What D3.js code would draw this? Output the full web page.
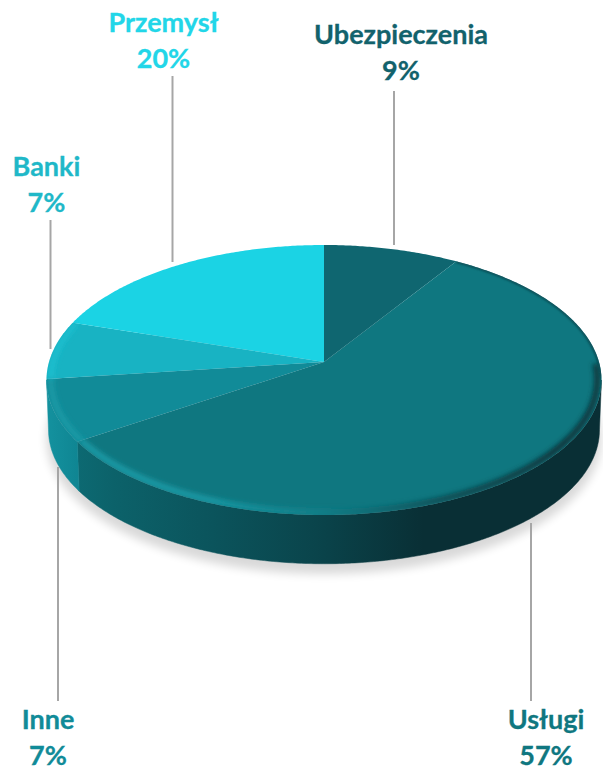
<!DOCTYPE html>
<html><head><meta charset="utf-8">
<script src="https://cdn.jsdelivr.net/npm/d3@7"></script>
<style>html,body{margin:0;padding:0;background:#fff}svg{display:block}</style>
</head><body><svg id="c" width="603" height="772"></svg>
<script>
const categories = ["Ubezpieczenia","Usługi","Inne","Banki","Przemysł"];
const values = [9,56.6,7.4,7,20];
const faceColors = ["#0f6670","#0f7780","#118b98","#18b3c3","#1bd3e4"];
const labelColors = ["#12626c","#0f7780","#118b98","#1fb8c8","#22d6e8"];

const W=603,H=772;
const svg=d3.select("#c");
const defs=svg.append("defs");
const cx=324,cy=362,depth=50;
// perspective disc: apex off the ellipse centre
const persp=-0.1333, sx=275, sy=132.6;
function proj(t,r=1,dy=0){
  const u=Math.sin(t)*r, v=-Math.cos(t)*r, d=1+persp*v;
  return [cx+sx*u/d, cy+sy*v/d+dy];
}
const pie=d3.pie().sort(null).value(d=>d)(values);
const line=d3.line();
const samples=(a,b)=>{const n=Math.max(2,Math.ceil((b-a)/0.01));return d3.range(n+1).map(i=>a+(b-a)*i/n);};
const frontA=Math.acos(persp), frontB=2*Math.PI-frontA;

const blur=(id,s)=>defs.append("filter").attr("id",id).attr("x","-20%").attr("y","-20%").attr("width","140%").attr("height","140%")
  .append("feGaussianBlur").attr("stdDeviation",s);
blur("sh",5); blur("rim",2.4); blur("rimBack",1.2);
const grad=(id,stops)=>{const g=defs.append("linearGradient").attr("id",id).attr("gradientUnits","userSpaceOnUse")
  .attr("x1",46).attr("x2",601).attr("y1",0).attr("y2",0);
  stops.forEach(s=>g.append("stop").attr("offset",s[0]).attr("stop-color",s[1]));};
grad("wall1",[[0,"#0d7079"],[0.12,"#0c626a"],[0.3,"#0b545c"],[0.5,"#0a434a"],[0.68,"#092f35"],[1,"#092f35"]]);
grad("wall2",[[0,"#14929f"],[0.06,"#0f8592"]]);
grad("rim1",[[0,"#1a9ca8"],[0.3,"#1a9aa6"],[0.5,"#127e88"],[0.72,"#0a4a51"],[0.92,"#083238"],[1,"#08383e"]]);
defs.append("clipPath").attr("id","topClip").append("path")
  .attr("d",line(samples(0,2*Math.PI).map(t=>proj(t)))+"Z");

// ground shadow
svg.append("path").attr("d",line(samples(0,2*Math.PI).map(t=>proj(t,1.0,depth+9)))+"Z")
  .attr("fill","#000").attr("opacity",0.15).attr("filter","url(#sh)");

// walls
const wallFill=[null,"url(#wall1)","url(#wall2)","#14929f",null];
pie.forEach((p,i)=>{
  const a=Math.max(p.startAngle,frontA), b=Math.min(p.endAngle,frontB);
  if(b<=a) return;
  const top=samples(a,b).map(t=>proj(t));
  const bot=samples(a,b).reverse().map(t=>proj(t,0.993,depth));
  svg.append("path").attr("d",line(top.concat(bot))+"Z").attr("fill",wallFill[i]).attr("stroke",wallFill[i]).attr("stroke-width",0.5);
});

// top faces
pie.forEach((p,i)=>{
  const pts=[[cx,cy]].concat(samples(p.startAngle,p.endAngle).map(t=>proj(t)));
  svg.append("path").attr("class","slice").attr("d",line(pts)+"Z").attr("fill",faceColors[i]);
});

// bevel rim: soft front band, fine dark line along the back right
const rimG=svg.append("g").attr("clip-path","url(#topClip)");
const rimStroke=[null,"url(#rim1)","#1a9ca8","#1fc0d0",null];
pie.forEach((p,i)=>{
  if(!rimStroke[i]) return;
  const a=i==1?frontA-0.12:p.startAngle;
  rimG.append("path").attr("d",line(samples(a,p.endAngle).map(t=>proj(t,0.985)))).attr("fill","none")
    .attr("stroke",rimStroke[i]).attr("stroke-width",i==1?6:5).attr("filter","url(#rim)");
  if(i==1) rimG.append("path").attr("d",line(samples(p.startAngle,a+0.1).map(t=>proj(t,0.998)))).attr("fill","none")
    .attr("stroke","#0a4a51").attr("stroke-width",2.5).attr("filter","url(#rimBack)");
});

// leader lines
const leaderX=[394,531,58,50.5,172.5];
const leaderTop=[91,523,467,220,76];
const leaderEnd=[245,701,701,349,262];
svg.append("g").selectAll("line").data(categories).join("line")
  .attr("x1",(d,i)=>leaderX[i]).attr("x2",(d,i)=>leaderX[i])
  .attr("y1",(d,i)=>leaderTop[i]).attr("y2",(d,i)=>leaderEnd[i])
  .attr("stroke","#a6a6a6").attr("stroke-width",2);

// labels
const labelX=[401,546,48,46.5,163.5];
const labelY=[44,729,729,176,32];
const g=svg.append("g").attr("font-family","Lato, sans-serif").attr("font-weight",700).attr("font-size",27).attr("text-anchor","middle");
categories.forEach((c,i)=>{
  g.append("text").attr("x",labelX[i]).attr("y",labelY[i]).attr("fill",labelColors[i]).attr("stroke",labelColors[i]).attr("stroke-width",0.3).text(c);
  g.append("text").attr("x",labelX[i]).attr("y",labelY[i]+36).attr("fill",labelColors[i]).attr("stroke",labelColors[i]).attr("stroke-width",0.3).text(Math.round(values[i])+"%");
});
</script></body></html>
